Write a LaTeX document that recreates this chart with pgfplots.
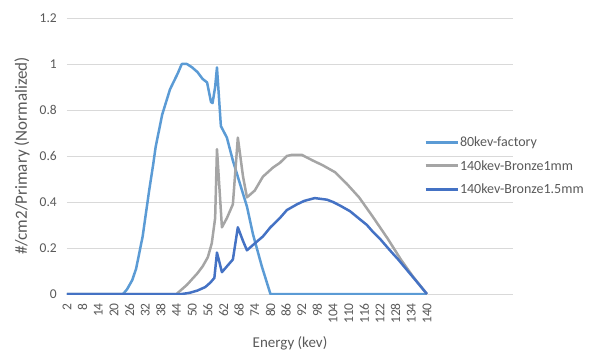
\documentclass[border=0pt]{standalone}
\usepackage{fontspec}
\setmainfont{Carlito}
\usepackage{pgfplots}
\pgfplotsset{compat=1.18}
\definecolor{c1}{HTML}{5B9BD5}
\definecolor{c2}{HTML}{A5A5A5}
\definecolor{c3}{HTML}{4472C4}
\definecolor{txt}{HTML}{595959}
\definecolor{grd}{HTML}{D9D9D9}
\begin{document}
\begin{tikzpicture}
\useasboundingbox (-67pt,-62pt) rectangle (522pt,294pt);
\begin{axis}[
  at={(0,0)}, anchor=south west,
  scale only axis, width=446pt, height=276pt,
  xmin=2, xmax=173, ymin=0, ymax=1.2,
  xtick={2,8,...,140}, ytick={0,0.2,0.4,0.6,0.8,1,1.2},
  /pgf/number format/assume math mode=true,
  axis line style={draw=none},
  major tick length=0pt,
  ymajorgrids, grid style={grd, line width=0.8pt},
  tick label style={text=txt, font=\fontsize{13.5}{16}\selectfont},
  xticklabel style={rotate=90, anchor=east, inner xsep=9pt},
  yticklabel style={inner xsep=10pt},
  every axis y label/.style={at={(rel axis cs:0,0.5)}, xshift=-45pt, rotate=90, anchor=center},
  every axis x label/.style={at={(rel axis cs:0.5,0)}, yshift=-49pt, anchor=center},
  label style={text=txt, font=\fontsize{15}{18}\selectfont},
  ylabel style={font=\fontsize{17}{20}\selectfont},
  xlabel={Energy (kev)},
  ylabel={\#/cm2/Primary (Normalized)},
  legend style={at={(0.80,0.464)}, anchor=west, draw=none, fill=none,
    font=\fontsize{14}{16}\selectfont, text=txt, row sep=10pt, inner sep=0pt,
    nodes={inner sep=1pt}},
  legend cell align=left,
  legend image code/.code={\draw[#1, line width=3pt] (0pt,0pt) -- (32pt,0pt);},
  every axis plot/.append style={line width=2.5pt, line join=round, mark=none},
]
\addplot[c1] coordinates {
(2,0) (23.5,0) (25,0.02) (27,0.06) (28.5,0.11) (31,0.25) (33.5,0.45) (35,0.56) (36,0.64)
(38.5,0.78) (41.5,0.89) (44.5,0.96) (46,1.0) (48,1.0) (50,0.985) (52,0.965) (54,0.935)
(55.7,0.92) (57.2,0.835) (57.8,0.83) (58.8,0.9) (59.5,0.985) (61,0.73) (63.3,0.68)
(65.6,0.58) (68.3,0.48) (71,0.38) (73.3,0.26) (76.7,0.12) (80,0) (140,0)
};
\addlegendentry{80kev-factory}
\addplot[c2] coordinates {
(2,0) (44,0) (46,0.02) (48,0.04) (50,0.065) (52,0.09) (54,0.12) (56,0.16) (57.5,0.22)
(58.8,0.33) (59.5,0.63) (61.4,0.29) (63.3,0.33) (65.6,0.39) (67.5,0.68) (69.5,0.51)
(71,0.42) (74,0.45) (77.1,0.51) (81,0.55) (83.6,0.57) (86.3,0.6) (88.2,0.605) (92,0.605)
(96.3,0.58) (100,0.56) (104.7,0.53) (109.2,0.48) (114,0.42) (119.3,0.335) (125,0.24)
(130,0.15) (134.7,0.075) (140,0)
};
\addlegendentry{140kev-Bronze1mm}
\addplot[c3] coordinates {
(2,0) (46,0) (49,0.005) (52,0.015) (55,0.03) (57,0.05) (58.5,0.07) (59.5,0.18) (61.4,0.095)
(63.3,0.12) (65.6,0.15) (67.5,0.29) (69.5,0.23) (71,0.19) (74,0.22) (77.1,0.25) (80,0.29)
(83.6,0.33) (86.3,0.365) (90.2,0.39) (93,0.405) (97,0.417) (101.7,0.41) (104,0.40)
(106.6,0.385) (110.5,0.36) (113.2,0.335) (117,0.30) (119.3,0.27) (122,0.24) (125.8,0.19)
(129,0.15) (132.3,0.105) (136,0.055) (140,0)
};
\addlegendentry{140kev-Bronze1.5mm}
\end{axis}
\end{tikzpicture}
\end{document}
